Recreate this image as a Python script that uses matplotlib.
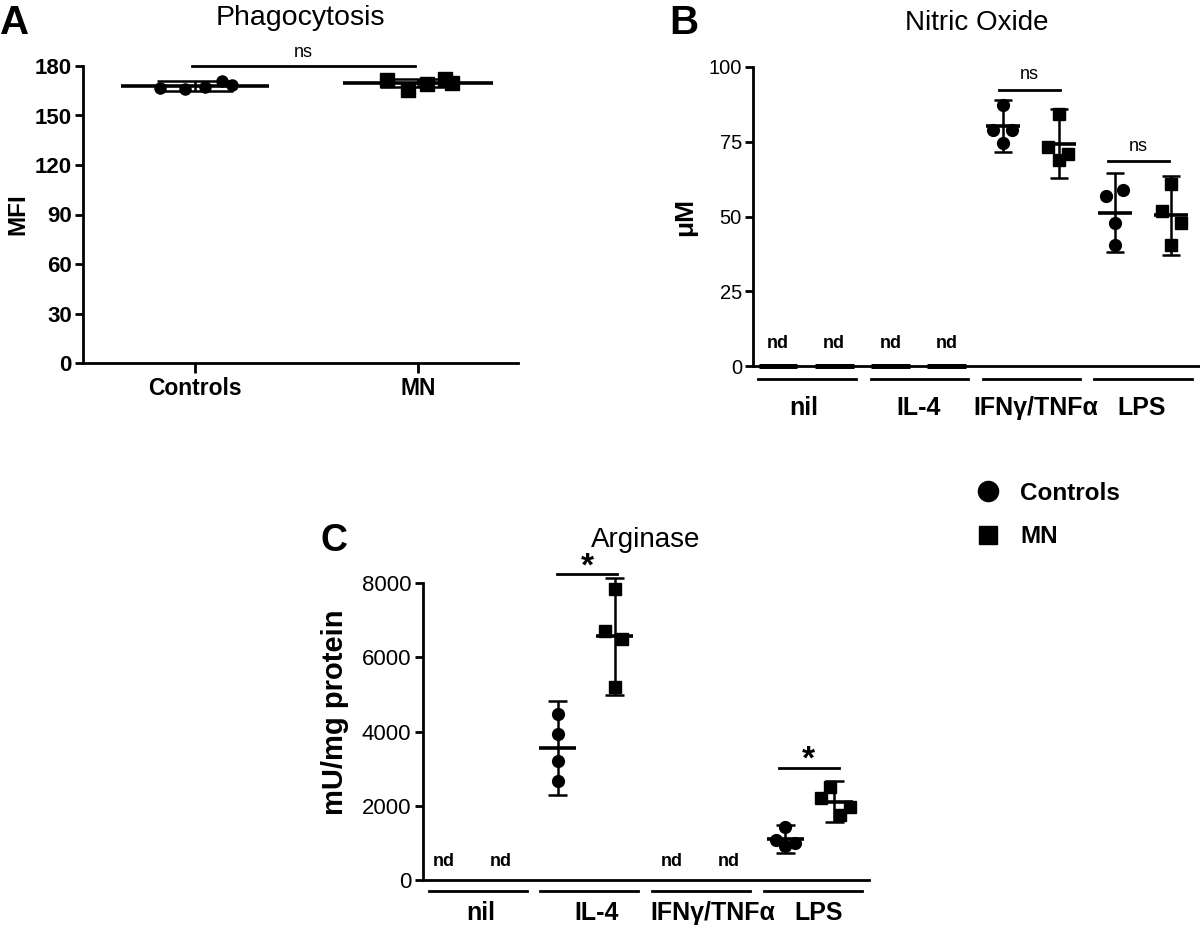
import numpy as np
import matplotlib
matplotlib.use("Agg")
import matplotlib.pyplot as plt
from matplotlib.lines import Line2D
from matplotlib.transforms import blended_transform_factory

plt.rcParams['font.family'] = ['Liberation Sans', 'DejaVu Sans']

# ---------------- data ----------------
# Panel A: Phagocytosis (MFI)
phago_labels = ["Controls", "MN"]
phago_controls = [166.5, 166.0, 167.0, 171.0, 168.5]
phago_mn = [171.5, 165.5, 169.0, 172.0, 170.0]
phago_mean = [168.0, 169.7]
phago_sd = [3.0, 2.2]

# Panel B: Nitric oxide (uM)
group_labels = ["nil", "IL-4", "IFN\u03b3/TNF\u03b1", "LPS"]
no_ctrl_ifn = [87.4, 78.8, 78.8, 74.6]
no_mn_ifn = [84.4, 73.2, 70.8, 68.8]
no_ctrl_lps = [56.9, 58.8, 47.8, 40.6]
no_mn_lps = [61.0, 51.8, 47.8, 40.6]
no_mean = [80.2, 74.4, 51.2, 50.4]
no_sd = [8.7, 11.5, 13.2, 13.2]

# Panel C: Arginase (mU/mg protein)
arg_ctrl_il4 = [4484, 3946, 3211, 2673]
arg_mn_il4 = [7848, 6700, 6502, 5202]
arg_ctrl_lps = [1435, 1076, 1004, 915]
arg_mn_lps = [2511, 2215, 1973, 1749]
arg_mean = [3560, 6565, 1094, 2108]
arg_sd = [1270, 1570, 380, 550]

# ---------------- style ----------------
K = 'black'
LW_AX = 2.0
LW_MEAN = 2.6
LW_ERR = 1.8

fig = plt.figure(figsize=(12, 9.27), dpi=100)


def style_axes(ax, bold_ticks=False, tick_size=14):
    for s in ['top', 'right']:
        ax.spines[s].set_visible(False)
    for s in ['left', 'bottom']:
        ax.spines[s].set_linewidth(LW_AX)
    ax.tick_params(axis='y', width=LW_AX, length=6, labelsize=tick_size, pad=2)
    if bold_ticks:
        for t in ax.get_yticklabels():
            t.set_fontweight('bold')


def draw_group(ax, x, pts, offs, mean, sd, marker, ms, mhalf=0.33, chalf=0.16):
    ax.plot(np.array(offs) + x, pts, ls='none', marker=marker, ms=ms, color=K,
            clip_on=False, zorder=3)
    ax.plot([x - mhalf, x + mhalf], [mean, mean], color=K, lw=LW_MEAN, zorder=4,
            solid_capstyle='butt', clip_on=False)
    ax.errorbar([x], [mean], yerr=[sd], fmt='none', ecolor=K, elinewidth=LW_ERR,
                capsize=0, zorder=4, clip_on=False)
    for yy in (mean - sd, mean + sd):
        ax.plot([x - chalf, x + chalf], [yy, yy], color=K, lw=LW_ERR, zorder=4,
                solid_capstyle='butt', clip_on=False)


# ================= Panel A =================
axA = fig.add_axes([83 / 1200, 1 - 363 / 927, 435 / 1200, 297 / 927])
axA.set_xlim(-0.502, 1.448)
axA.set_ylim(0, 180)
axA.set_yticks([0, 30, 60, 90, 120, 150, 180])
axA.set_xticks([0, 1])
axA.set_xticklabels(phago_labels, fontsize=16.5, fontweight='bold')
axA.tick_params(axis='x', width=LW_AX, length=7, pad=3)
style_axes(axA, bold_ticks=True, tick_size=16)
axA.set_ylabel("MFI", fontsize=17.5, fontweight='bold', labelpad=4)
axA.set_title("Phagocytosis", fontsize=20.5, pad=29.5)

draw_group(axA, 0, phago_controls, [-0.157, -0.045, 0.045, 0.12, 0.166],
           phago_mean[0], phago_sd[0], 'o', 8, mhalf=0.33, chalf=0.17)
draw_group(axA, 1, phago_mn, [-0.139, -0.045, 0.04, 0.12, 0.15],
           phago_mean[1], phago_sd[1], 's', 10, mhalf=0.335, chalf=0.17)
axA.plot([-0.013, 0.987], [180, 180], color=K, lw=LW_AX, clip_on=False)
axA.text(0.487, 183, "ns", ha='center', va='bottom', fontsize=13)

# ================= Panel B =================
axB = fig.add_axes([753 / 1200, 1 - 366 / 927, 447 / 1200, 299 / 927])
axB.set_xlim(0.555, 8.51)
axB.set_ylim(0, 100)
axB.set_yticks([0, 25, 50, 75, 100])
axB.set_xticks([])
style_axes(axB, tick_size=14.5)
axB.set_ylabel("\u03bcM", fontsize=19, fontweight='bold', labelpad=8)
axB.set_title("Nitric Oxide", fontsize=20, pad=27)

for x in [1, 2, 3, 4]:
    axB.plot([x - 0.345, x + 0.345], [0, 0], color=K, lw=LW_MEAN + 1, zorder=4,
             solid_capstyle='butt', clip_on=False)
    axB.text(x, 7.4, "nd", ha='center', va='center', fontsize=13, fontweight='bold')

draw_group(axB, 5, no_ctrl_ifn, [0, -0.165, 0.165, 0], no_mean[0], no_sd[0], 'o', 8.5, mhalf=0.3)
draw_group(axB, 6, no_mn_ifn, [0, -0.2, 0.16, 0], no_mean[1], no_sd[1], 's', 8, mhalf=0.3)
draw_group(axB, 7, no_ctrl_lps, [-0.165, 0.145, 0, 0], no_mean[2], no_sd[2], 'o', 8.5, mhalf=0.3)
draw_group(axB, 8, no_mn_lps, [0, -0.165, 0.165, 0], no_mean[3], no_sd[3], 's', 8, mhalf=0.3)

axB.plot([4.93, 6.02], [92.4, 92.4], color=K, lw=LW_AX)
axB.text(5.47, 94.5, "ns", ha='center', va='bottom', fontsize=13)
axB.plot([6.87, 7.96], [68.6, 68.6], color=K, lw=LW_AX)
axB.text(7.42, 70.7, "ns", ha='center', va='bottom', fontsize=13)

trB = blended_transform_factory(axB.transData, axB.transAxes)
for c in [1.52, 3.52, 5.51, 7.5]:
    axB.plot([c - 0.87, c + 0.87], [-0.045, -0.045], color=K, lw=LW_AX,
             transform=trB, clip_on=False)
for c, lab in zip([1.46, 3.5, 5.59, 7.47], group_labels):
    axB.text(c, -0.14, lab, ha='center', va='center', fontsize=18, fontweight='bold',
             transform=trB)

# ================= Panel C =================
axC = fig.add_axes([422.6 / 1200, 1 - 880 / 927, 446.6 / 1200, 297 / 927])
axC.set_xlim(0.632, 8.47)
axC.set_ylim(0, 8000)
axC.set_yticks([0, 2000, 4000, 6000, 8000])
axC.set_xticks([])
style_axes(axC, tick_size=16)
axC.set_ylabel("mU/mg protein", fontsize=21, fontweight='bold')
axC.yaxis.set_label_coords(-0.165, 0.566)
axC.set_title("Arginase", fontsize=20, pad=26)

for x in [1, 2, 5, 6]:
    axC.text(x, 485, "nd", ha='center', va='center', fontsize=13, fontweight='bold')

draw_group(axC, 3, arg_ctrl_il4, [0, 0, 0, 0], arg_mean[0], arg_sd[0], 'o', 8.5)
draw_group(axC, 4, arg_mn_il4, [0, -0.17, 0.13, 0], arg_mean[1], arg_sd[1], 's', 8)
draw_group(axC, 7, arg_ctrl_lps, [0, -0.17, 0.17, 0], arg_mean[2], arg_sd[2], 'o', 8.5)
draw_group(axC, 7.86, arg_mn_lps, [-0.07, -0.23, 0.27, 0.1], arg_mean[3], arg_sd[3], 's', 8)

axC.plot([2.99, 4.05], [8233, 8233], color=K, lw=LW_AX, clip_on=False)
axC.text(3.52, 8000, "*", ha='center', va='bottom', fontsize=24, fontweight='bold')
axC.plot([6.88, 7.94], [3022, 3022], color=K, lw=LW_AX)
axC.text(7.41, 2800, "*", ha='center', va='bottom', fontsize=24, fontweight='bold')

trC = blended_transform_factory(axC.transData, axC.transAxes)
for c in [1.6, 3.56, 5.52, 7.49]:
    axC.plot([c - 0.86, c + 0.86], [-0.037, -0.037], color=K, lw=LW_AX,
             transform=trC, clip_on=False)
for c, lab in zip([1.65, 3.69, 5.73, 7.59], group_labels):
    axC.text(c, -0.11, lab, ha='center', va='center', fontsize=18, fontweight='bold',
             transform=trC)

# ================= Legend =================
handles = [Line2D([], [], ls='none', marker='o', ms=14.5, color=K),
           Line2D([], [], ls='none', marker='s', ms=13, color=K)]
fig.legend(handles, ["Controls", "MN"], loc='center left',
           bbox_to_anchor=(964 / 1200, 1 - 515 / 927), frameon=False,
           prop={'size': 17.5, 'weight': 'bold'}, handletextpad=0.8,
           labelspacing=0.85, handlelength=1.0, borderpad=0)

# ================= Panel letters =================
fig.text(0 / 1200, 1 - 23 / 927, "A", fontsize=29, fontweight='bold', va='center', ha='left')
fig.text(669 / 1200, 1 - 23 / 927, "B", fontsize=29, fontweight='bold', va='center', ha='left')
fig.text(320 / 1200, 1 - 541 / 927, "C", fontsize=27, fontweight='bold', va='center', ha='left')

fig.savefig("out.png", dpi=100)
